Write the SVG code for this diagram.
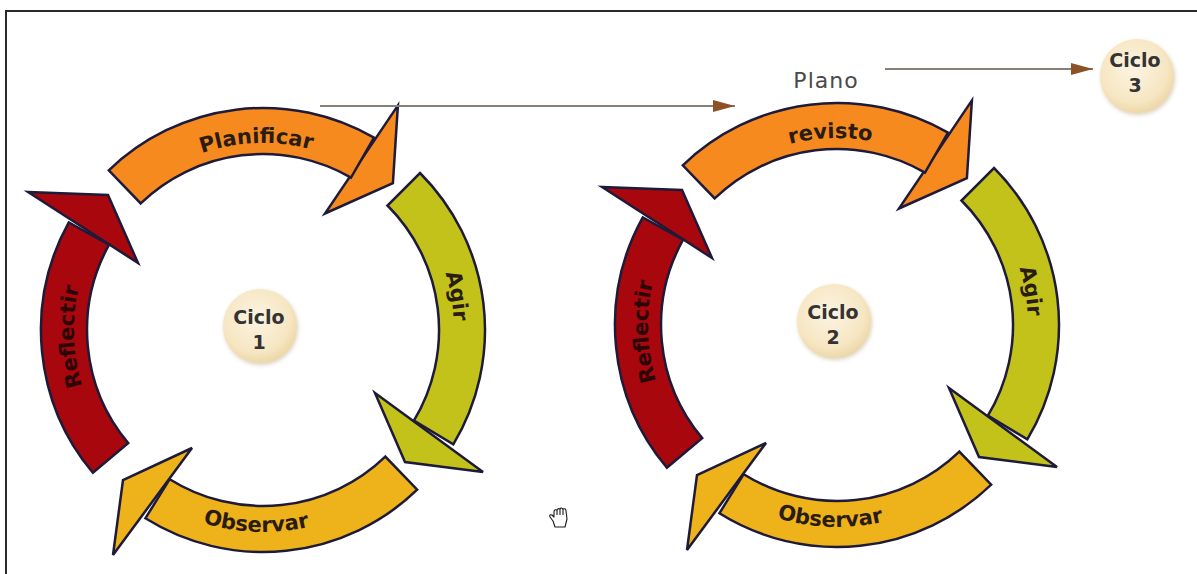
<svg xmlns="http://www.w3.org/2000/svg" xmlns:xlink="http://www.w3.org/1999/xlink" width="1197" height="574" viewBox="0 0 1197 574">
  <style>
    .band { stroke: #1d1a3a; stroke-width: 2.5; stroke-linejoin: miter; }
    .plan { fill: #F68A1F; }
    .agir { fill: #C3C21B; }
    .obs  { fill: #EEB21B; }
    .refl { fill: #A7070D; }
    .label { font-family: "DejaVu Sans", Verdana, sans-serif; font-weight: bold; font-size: 21px; fill: #2a1c10; }
    .label-dark { fill: #2c0606; }
    .ciclo { font-family: "DejaVu Sans", Verdana, sans-serif; font-weight: bold; font-size: 19px; fill: #333333; text-anchor: middle; }
    .plano { font-family: "DejaVu Sans", Verdana, sans-serif; font-size: 22px; letter-spacing: 1px; fill: #4a4a4a; text-anchor: middle; }
    .link { stroke: #8a7f76; stroke-width: 2; fill: none; }
    .frame { stroke: #2a2a2a; stroke-width: 2; fill: none; }
  </style>
  <defs>
    <!-- ring segments, drawn around a cycle centre at (0,0) -->
    <path id="band-top"    d="M-154.2,-159.7 A222,222 0 0 1 111,-192.3 L88,-152.4 A176,176 0 0 0 -122.3,-126.6 Z"/>
    <polygon id="head-top"  points="134.9,-224.6 129.9,-146.8 62,-116.5"/>
    <path id="band-right"  d="M157,-157 A222,222 0 0 1 190.3,114.3 L150.9,90.6 A176,176 0 0 0 124.5,-124.5 Z"/>
    <polygon id="head-right" points="112,63 220,142 142,132"/>
    <path id="band-bottom" d="M154.2,159.7 A222,222 0 0 1 -117.6,188.3 L-93.3,149.2 A176,176 0 0 0 122.3,126.6 Z"/>
    <polygon id="head-bottom" points="-71,118 -150,225 -140,150"/>
    <path id="band-left"   d="M-170.1,142.7 A222,222 0 0 1 -194.2,-107.6 L-153.9,-85.3 A176,176 0 0 0 -134.8,113.1 Z"/>
    <polygon id="head-left" points="-235,-138 -155,-135 -125,-67"/>

    <!-- baselines for the curved labels -->
    <path id="tp-top"    d="M-185.2,-26 A187,187 0 0 1 182.9,-38.9"/>
    <path id="tp-bottom" d="M-200,28.1 A202,202 0 0 0 197.6,42"/>
    <path id="tp-right"  d="M0,-191 A191,191 0 0 1 65.3,179.5"/>
    <path id="tp-left"   d="M-26.3,187.2 A189,189 0 0 1 -39.3,-184.9"/>

    <radialGradient id="disc" cx="45%" cy="40%" r="65%">
      <stop offset="0" stop-color="#FCF4E2"/>
      <stop offset="0.7" stop-color="#F6E6C2"/>
      <stop offset="1" stop-color="#EBD3A0"/>
    </radialGradient>
    <filter id="soft" x="-30%" y="-30%" width="160%" height="160%">
      <feDropShadow dx="1" dy="2" stdDeviation="2" flood-color="#b09a6a" flood-opacity="0.45"/>
    </filter>
    <marker id="arrow" markerUnits="userSpaceOnUse" markerWidth="22" markerHeight="12" refX="22" refY="6" orient="auto">
      <path d="M0,0 L22,6 L0,12 Z" fill="#8C5226"/>
    </marker>
  </defs>

  <!-- page frame -->
  <path class="frame" d="M6,574 V11 H1197"/>

  <!-- first cycle -->
  <g id="cycle-1" transform="translate(263,330)">
    <g id="c1-planificar">
      <use href="#head-top" class="band plan"/>
      <use href="#band-top" class="band plan"/>
      <text class="label"><textPath href="#tp-top" startOffset="50%" text-anchor="middle">Planificar</textPath></text>
    </g>
    <g id="c1-agir">
      <use href="#head-right" class="band agir"/>
      <use href="#band-right" class="band agir"/>
      <text class="label"><textPath href="#tp-right" startOffset="50%" text-anchor="middle">Agir</textPath></text>
    </g>
    <g id="c1-observar">
      <use href="#head-bottom" class="band obs"/>
      <use href="#band-bottom" class="band obs"/>
      <text class="label"><textPath href="#tp-bottom" startOffset="50%" text-anchor="middle">Observar</textPath></text>
    </g>
    <g id="c1-reflectir">
      <use href="#head-left" class="band refl"/>
      <use href="#band-left" class="band refl"/>
      <text class="label label-dark"><textPath href="#tp-left" startOffset="50%" text-anchor="middle">Reflectir</textPath></text>
    </g>
    <g id="ciclo-1" transform="translate(-3,-4)">
      <circle r="37" fill="url(#disc)" filter="url(#soft)"/>
      <text class="ciclo" x="-1" y="-2">Ciclo</text>
      <text class="ciclo" x="-1" y="23">1</text>
    </g>
  </g>

  <!-- second cycle -->
  <g id="cycle-2" transform="translate(837,325)">
    <g id="c2-revisto">
      <use href="#head-top" class="band plan"/>
      <use href="#band-top" class="band plan"/>
      <text class="label"><textPath href="#tp-top" startOffset="50%" text-anchor="middle">revisto</textPath></text>
    </g>
    <g id="c2-agir">
      <use href="#head-right" class="band agir"/>
      <use href="#band-right" class="band agir"/>
      <text class="label"><textPath href="#tp-right" startOffset="50%" text-anchor="middle">Agir</textPath></text>
    </g>
    <g id="c2-observar">
      <use href="#head-bottom" class="band obs"/>
      <use href="#band-bottom" class="band obs"/>
      <text class="label"><textPath href="#tp-bottom" startOffset="50%" text-anchor="middle">Observar</textPath></text>
    </g>
    <g id="c2-reflectir">
      <use href="#head-left" class="band refl"/>
      <use href="#band-left" class="band refl"/>
      <text class="label label-dark"><textPath href="#tp-left" startOffset="50%" text-anchor="middle">Reflectir</textPath></text>
    </g>
    <g id="ciclo-2" transform="translate(-3,-4)">
      <circle r="37" fill="url(#disc)" filter="url(#soft)"/>
      <text class="ciclo" x="-1" y="-2">Ciclo</text>
      <text class="ciclo" x="-1" y="23">2</text>
    </g>
  </g>

  <!-- plan label and third cycle -->
  <g id="plano">
    <text class="plano" x="826" y="88">Plano</text>
  </g>
  <g id="ciclo-3" transform="translate(1137,76)">
    <circle r="37" fill="url(#disc)" filter="url(#soft)"/>
    <text class="ciclo" x="-2" y="-9">Ciclo</text>
    <text class="ciclo" x="-2" y="16">3</text>
  </g>

  <!-- connectors -->
  <g id="connectors">
    <path class="link" d="M320,106 H735" marker-end="url(#arrow)"/>
    <path class="link" d="M885,69 H1093" marker-end="url(#arrow)"/>
  </g>

  <!-- pointer cursor -->
  <g id="cursor" fill="#ffffff" stroke="#1a1a1a" stroke-width="1.1" stroke-linejoin="round">
    <path d="M555,527 L553,521 L550,517 Q549,514 552,515 L554,517 L554,512 Q554,509 557,510 Q558,508 560,509 Q561,507 563,509 Q566,508 566,511 L567,519 L565,527 Z"/>
    <path d="M557,510 L557,515 M560,509 L560,515 M563,509 L563,515" fill="none"/>
  </g>
</svg>
